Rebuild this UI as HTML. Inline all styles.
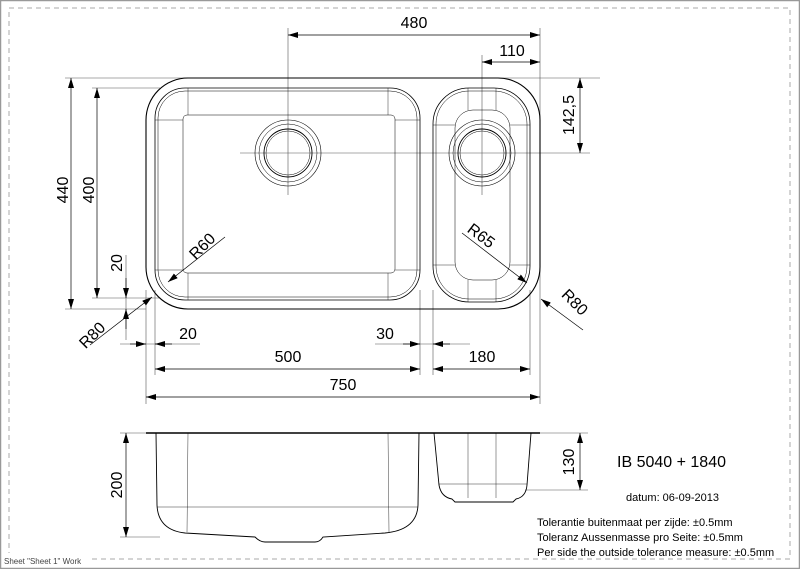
<!DOCTYPE html>
<html><head><style>
html,body{margin:0;padding:0;background:#fff;}
svg{display:block;font-family:"Liberation Sans",Arial,sans-serif;}
</style></head><body>
<svg width="800" height="569" viewBox="0 0 800 569" xmlns="http://www.w3.org/2000/svg">
<defs>
<marker id="a" viewBox="0 0 10 6" refX="10" refY="3" markerWidth="10" markerHeight="6" orient="auto-start-reverse" markerUnits="userSpaceOnUse"><path d="M0,0L10,3L0,6z" fill="#000"/></marker>
</defs>
<rect x="0.5" y="0.5" width="799" height="568" fill="none" stroke="#999" stroke-width="1.5"/>
<rect x="9" y="8" width="781" height="551" fill="none" stroke="#aaa" stroke-dasharray="5,4"/>
<rect x="4" y="553" width="84" height="12" fill="#fff"/>
<text x="4" y="564" font-size="8" fill="#444">Sheet "Sheet 1" Work</text>

<g stroke="#555" stroke-width="0.6" fill="none">
<line x1="65" y1="78" x2="600" y2="78"/>
<line x1="65" y1="309" x2="146" y2="309"/>
<line x1="92" y1="88" x2="160" y2="88"/>
<line x1="92" y1="298" x2="160" y2="298"/>
<line x1="240" y1="153" x2="590" y2="153"/>
<line x1="288" y1="28" x2="288" y2="195"/>
<line x1="482" y1="55" x2="482" y2="195"/>
<line x1="540" y1="28" x2="540" y2="404"/>
<line x1="146" y1="290" x2="146" y2="404"/>
<line x1="155" y1="290" x2="155" y2="375"/>
<line x1="420" y1="290" x2="420" y2="375"/>
<line x1="433" y1="290" x2="433" y2="375"/>
<line x1="530" y1="290" x2="530" y2="375"/>
<line x1="126" y1="255" x2="126" y2="340"/>
<line x1="150" y1="433" x2="120" y2="433"/>
<line x1="120" y1="537" x2="160" y2="537"/>
<line x1="530" y1="433" x2="588" y2="433"/>
<line x1="525" y1="490" x2="588" y2="490"/>
<line x1="120" y1="344" x2="200" y2="344"/>
<line x1="375" y1="344" x2="470" y2="344"/>
</g>

<g stroke="#000" stroke-width="0.7" fill="none">
<line x1="288" y1="35" x2="540" y2="35" marker-start="url(#a)" marker-end="url(#a)"/>
<line x1="482" y1="62" x2="540" y2="62" marker-start="url(#a)" marker-end="url(#a)"/>
<line x1="580" y1="78" x2="580" y2="153" marker-start="url(#a)" marker-end="url(#a)"/>
<line x1="71" y1="78" x2="71" y2="309" marker-start="url(#a)" marker-end="url(#a)"/>
<line x1="97" y1="88" x2="97" y2="298" marker-start="url(#a)" marker-end="url(#a)"/>
<line x1="126" y1="278" x2="126" y2="298" marker-end="url(#a)"/>
<line x1="126" y1="329" x2="126" y2="309" marker-end="url(#a)"/>
<line x1="130" y1="344" x2="146" y2="344" marker-end="url(#a)"/>
<line x1="172" y1="344" x2="155" y2="344" marker-end="url(#a)"/>
<line x1="403" y1="344" x2="420" y2="344" marker-end="url(#a)"/>
<line x1="450" y1="344" x2="433" y2="344" marker-end="url(#a)"/>
<line x1="155" y1="369" x2="420" y2="369" marker-start="url(#a)" marker-end="url(#a)"/>
<line x1="433" y1="369" x2="530" y2="369" marker-start="url(#a)" marker-end="url(#a)"/>
<line x1="146" y1="397" x2="540" y2="397" marker-start="url(#a)" marker-end="url(#a)"/>
<line x1="126" y1="433" x2="126" y2="537" marker-start="url(#a)" marker-end="url(#a)"/>
<line x1="580" y1="433" x2="580" y2="490" marker-start="url(#a)" marker-end="url(#a)"/>
<line x1="225" y1="237" x2="168" y2="282" marker-end="url(#a)"/>
<line x1="90" y1="345" x2="152" y2="297" marker-end="url(#a)"/>
<line x1="462" y1="233" x2="527" y2="283" marker-end="url(#a)"/>
<line x1="583" y1="330" x2="541" y2="299" marker-end="url(#a)"/>
</g>

<g fill="none" stroke="#000">
<rect x="146" y="78" width="394" height="231" rx="42" stroke-width="1.1"/>
<rect x="155" y="88" width="265" height="212" rx="30" stroke-width="0.8"/>
<rect x="158" y="91" width="259" height="206" rx="27" stroke-width="0.5"/>
<rect x="183" y="115" width="212" height="158" rx="4" stroke-width="0.5"/>
<line x1="188" y1="88" x2="188" y2="115" stroke-width="0.4"/>
<line x1="388" y1="88" x2="388" y2="115" stroke-width="0.4"/>
<line x1="188" y1="273" x2="188" y2="300" stroke-width="0.4"/>
<line x1="388" y1="273" x2="388" y2="300" stroke-width="0.4"/>
<line x1="155" y1="120" x2="183" y2="120" stroke-width="0.4"/>
<line x1="155" y1="270" x2="183" y2="270" stroke-width="0.4"/>
<line x1="395" y1="120" x2="420" y2="120" stroke-width="0.4"/>
<line x1="395" y1="270" x2="420" y2="270" stroke-width="0.4"/>
<circle cx="288" cy="153" r="33" stroke-width="0.6"/>
<circle cx="288" cy="153" r="29" stroke-width="0.5"/>
<circle cx="288" cy="153" r="24" stroke-width="0.9"/>
<circle cx="288" cy="153" r="22" stroke-width="0.5"/>
<rect x="433" y="88" width="97" height="214" rx="36" stroke-width="0.8"/>
<rect x="436" y="91" width="91" height="208" rx="33" stroke-width="0.5"/>
<rect x="455" y="110" width="55" height="170" rx="18" stroke-width="0.5"/>
<line x1="468" y1="88" x2="468" y2="110" stroke-width="0.4"/>
<line x1="496" y1="88" x2="496" y2="110" stroke-width="0.4"/>
<line x1="468" y1="280" x2="468" y2="302" stroke-width="0.4"/>
<line x1="496" y1="280" x2="496" y2="302" stroke-width="0.4"/>
<line x1="433" y1="125" x2="455" y2="125" stroke-width="0.4"/>
<line x1="510" y1="125" x2="530" y2="125" stroke-width="0.4"/>
<line x1="433" y1="265" x2="455" y2="265" stroke-width="0.4"/>
<line x1="510" y1="265" x2="530" y2="265" stroke-width="0.4"/>
<circle cx="482" cy="153" r="33" stroke-width="0.6"/>
<circle cx="482" cy="153" r="29" stroke-width="0.5"/>
<circle cx="482" cy="153" r="24" stroke-width="0.9"/>
<circle cx="482" cy="153" r="22" stroke-width="0.5"/>
</g>

<g fill="none" stroke="#000">
<line x1="146" y1="433" x2="540" y2="433" stroke-width="1.6"/>
<path d="M156,433 L157,505 Q158,530 185,533 L255,537 Q260,542 265,542 L315,542 Q320,542 323,537 L385,533 Q417,530 418,505 L419,433" stroke-width="0.9"/>
<path d="M188,433 L187,532 M388,433 L389,532 M157,507 L418,507" stroke-width="0.4"/>
<path d="M434,433 L439,485 Q441,497 452,499 L455,502 L513,502 L516,499 Q526,497 527,485 L531,433" stroke-width="0.9"/>
<path d="M468,433 L468,498 M496,433 L496,498 M439,484 L527,484" stroke-width="0.4"/>
</g>

<g font-size="16" fill="#000">
<text x="414" y="28" text-anchor="middle">480</text>
<text x="512" y="56" text-anchor="middle">110</text>
<text x="188" y="339" text-anchor="middle">20</text>
<text x="385" y="339" text-anchor="middle">30</text>
<text x="288" y="362" text-anchor="middle">500</text>
<text x="482" y="362" text-anchor="middle">180</text>
<text x="343" y="390" text-anchor="middle">750</text>
<text transform="translate(574,115) rotate(-90)" text-anchor="middle">142,5</text>
<text transform="translate(68,190) rotate(-90)" text-anchor="middle">440</text>
<text transform="translate(94,190) rotate(-90)" text-anchor="middle">400</text>
<text transform="translate(122,263) rotate(-90)" text-anchor="middle">20</text>
<text transform="translate(122,485) rotate(-90)" text-anchor="middle">200</text>
<text transform="translate(574,462) rotate(-90)" text-anchor="middle">130</text>
<text transform="translate(206,250) rotate(-45)" text-anchor="middle">R60</text>
<text transform="translate(96,339) rotate(-45)" text-anchor="middle">R80</text>
<text transform="translate(478,240) rotate(37)" text-anchor="middle">R65</text>
<text transform="translate(571,306) rotate(45)" text-anchor="middle">R80</text>
<text x="617" y="467" font-size="16">IB 5040 + 1840</text>
</g>
<g font-size="11" fill="#000">
<text x="626" y="501">datum: 06-09-2013</text>
<text x="537" y="526">Tolerantie buitenmaat per zijde: ±0.5mm</text>
<text x="537" y="541">Toleranz Aussenmasse pro Seite: ±0.5mm</text>
<text x="537" y="556">Per side the outside tolerance measure: ±0.5mm</text>
</g>
</svg>
</body></html>
